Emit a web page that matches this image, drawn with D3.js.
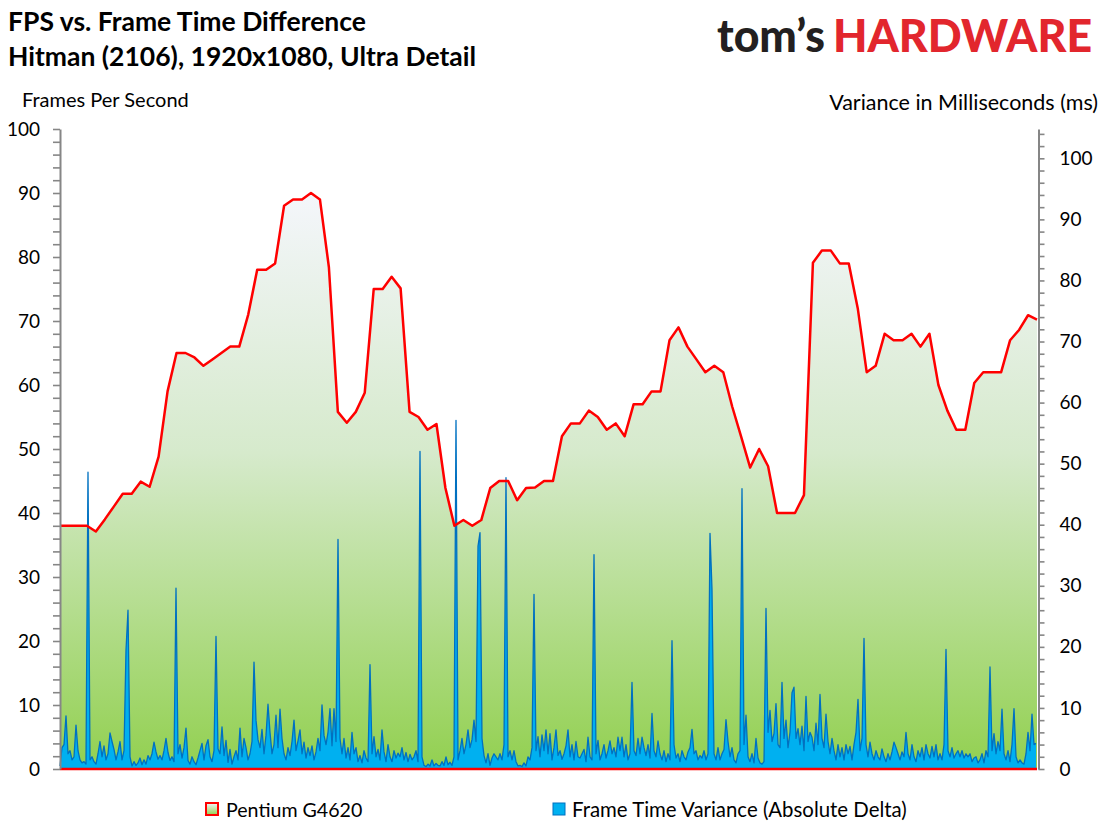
<!DOCTYPE html>
<html>
<head>
<meta charset="utf-8">
<script src="https://cdn.jsdelivr.net/npm/d3@7"></script>
<style>
  body { margin: 0; background: #fff; }
  svg { display: block; }
  text { font-family: Lato, "Open Sans", sans-serif; fill: #000; }
</style>
</head>
<body>
<svg id="chart" width="1107" height="830"></svg>
<script>
// FPS, one sample per second (Pentium G4620)
const fpsValues = [
  38, 38, 38, 38, 37.1, 39, 41, 43, 43, 44.9,
  44.1, 48.8, 59, 65, 65, 64.3, 63, 64, 65, 66,
  66, 71, 78, 78, 79, 88, 89, 89, 90, 89,
  78.4, 55.8, 54.1, 55.8, 58.8, 75, 75, 76.9, 75.1, 55.8,
  55, 53, 53.9, 43.9, 38, 38.9, 38, 38.9, 43.9, 45,
  45, 42, 43.9, 44, 45, 45, 52, 54, 54, 56,
  55, 53, 54, 52, 57, 57, 59, 59, 67, 69,
  66, 64, 62, 63, 62, 56.6, 51.9, 47.1, 50, 47.3,
  40, 40, 40, 42.8, 79.1, 81, 81, 79, 79, 72,
  62, 63, 68, 67, 67, 68, 66, 68, 60, 56,
  53, 53, 60.3, 62, 62, 62, 67, 68.6, 70.9, 70.2
];

// frame time variance (absolute delta, ms)
const varianceValues = [
  0.5, 3.5, 4, 8.7, 2.5, 3, 1.5, 2, 7.2, 3,
  1.5, 1, 1.2, 0.8, 48.6, 1.5, 2, 1.2, 0.8, 2.5,
  4.5, 2, 3.8, 1.5, 2.5, 5.9, 4.5, 3.2, 1.5, 2.8,
  4.5, 1.5, 3, 19.5, 26, 2, 0.5, 1.2, 0.6, 1,
  1.8, 0.7, 1.5, 0.8, 2.2, 1.5, 2.5, 4.4, 2.8, 1.6,
  2.2, 1.5, 3, 5, 2.7, 1.4, 2, 1.2, 29.6, 2.5,
  4, 1.8, 3.5, 6.7, 1.4, 0.8, 2, 1.2, 0.7, 1.8,
  3, 4.2, 1.5, 3.8, 4.8, 2, 1.2, 3, 21.7, 3.3,
  2.5, 6.9, 2.2, 4.7, 1.1, 3.2, 0.8, 2, 3, 1.5,
  6.7, 2, 5, 3.5, 1.5, 2.5, 4.5, 17.5, 8, 4.8,
  3.5, 6.5, 2.5, 5.5, 10.6, 6, 2.5, 4, 8.8, 3.5,
  9.8, 5, 2.5, 1.5, 3.5, 2.2, 4.5, 8, 3, 4.6,
  6.4, 2.5, 4.4, 1.8, 3.5, 2.2, 3.8, 1.5, 2.8, 5,
  3, 10.5, 5.5, 4, 6, 9.9, 3.8, 9.9, 4.5, 37.6,
  5, 2.5, 5, 1.8, 3.5, 1.5, 6, 2.5, 3.5, 1.2,
  2.2, 1, 3, 1.8, 1.2, 17.1, 2.5, 5.3, 2, 3.2,
  1.5, 6.4, 2.8, 1.2, 4, 2, 1.2, 3, 1.8, 2.6,
  2, 3.5, 1.5, 2.7, 1.2, 2.4, 1.5, 2, 3, 1.2,
  52, 2, 0.6, 0.4, 0.8, 0.5, 1.5, 0.5, 0.9, 0.6,
  0.5, 1.2, 0.6, 2, 0.7, 1.1, 0.6, 2, 57.1, 1.5,
  3, 5, 2.5, 4, 6.4, 3.5, 4.8, 8, 4.5, 36.5,
  38.7, 5, 2.2, 1, 2.5, 0.6, 1.8, 2.5, 2, 1.5,
  2.5, 1.5, 4, 47.7, 2, 3, 1.5, 3, 1.2, 0.5,
  0.6, 0.4, 1, 0.5, 2, 1.5, 3.5, 28.6, 3, 5.3,
  2, 5.6, 3, 6.4, 2.5, 5.8, 1.5, 3.5, 6.4, 2.2,
  3, 1.6, 2.5, 3.8, 6.4, 2, 4, 1.5, 4.5, 2,
  1.8, 2.5, 3.2, 1.2, 5.2, 2, 1.5, 35.1, 2.5, 4.7,
  1.5, 2.5, 4, 1.8, 3, 4.6, 2.5, 3.5, 2, 5.2,
  3, 5.2, 2, 4, 1.5, 2.5, 14.2, 3, 2.2, 5,
  2.5, 5.2, 3.5, 2.2, 4, 1.8, 9.1, 3, 2, 4.6,
  2.5, 1.5, 3, 1.2, 2.5, 1.5, 21, 4, 1.8, 2.5,
  1.2, 3, 2, 1.5, 2.8, 3.5, 6.5, 2.5, 3, 1.5,
  2.2, 1.8, 3, 1.5, 2.5, 38.6, 29.4, 2.5, 1.5, 3.5,
  1.5, 2.5, 3.2, 8.1, 4.5, 2, 3.5, 1.5, 1, 2.5,
  3, 45.9, 4, 8.8, 2, 1.2, 2.5, 1, 5, 1.8,
  1, 0.8, 1.2, 26.3, 6, 9.6, 4.5, 5.8, 10.7, 4,
  3.5, 14.2, 5, 8, 3.5, 6, 12.5, 13.4, 5, 6.6,
  4, 7, 3, 11.9, 4.5, 6, 5.2, 3, 7.5, 4,
  12.2, 5, 3.5, 9, 4.5, 2.5, 5, 3, 1.5, 4,
  2, 3.5, 1.5, 4, 2.5, 3.7, 1.5, 4, 6, 11.4,
  3, 5, 21.4, 4, 2, 4.4, 2.5, 1.5, 3, 2,
  1.5, 3.3, 2, 1.2, 2.5, 1.5, 2.8, 4.4, 3.5, 2.5,
  1.5, 2.8, 2, 6, 2.5, 1.5, 4, 2, 1.2, 3,
  2, 3.5, 1.5, 4, 2.5, 1.8, 3.7, 2, 4, 1.5,
  2.5, 1.5, 4, 19.6, 3, 2, 3.5, 1.8, 2.5, 3,
  2, 3, 1.8, 2.5, 2, 2.5, 1.2, 1.8, 2, 1,
  1.5, 2.5, 1, 3, 2, 16.7, 3, 5.8, 2.5, 4.5,
  3, 9.8, 2.5, 1.5, 3, 1.2, 4, 9.9, 2, 1,
  1.5, 1, 0.8, 2.5, 6, 3, 9, 4, 4.2
];

const fpsTicks = d3.range(0, 101, 2);
const msTicks = d3.range(0, 105, 2);
const seriesNames = ["Pentium G4620", "Frame Time Variance (Absolute Delta)"];

const svg = d3.select("#chart");

const plotLeft = 60, plotRight = 1038.5, plotTop = 129, plotBottom = 769;

const xFps = d3.scaleLinear().domain([0, fpsValues.length - 1]).range([60, 1037]);
const xVar = d3.scaleLinear().domain([0, varianceValues.length - 1]).range([60, 1036]);
const yFps = d3.scaleLinear().domain([0, 100]).range([plotBottom, plotTop]);
const yMs = d3.scaleLinear().domain([0, 104.8]).range([plotBottom, plotTop]);

// gradient for the fps area
const defs = svg.append("defs");
const grad = defs.append("linearGradient")
    .attr("id", "fpsFill")
    .attr("x1", 0).attr("y1", 0).attr("x2", 0).attr("y2", 1);
grad.append("stop").attr("offset", "0%").attr("stop-color", "#f4f6fb");
grad.append("stop").attr("offset", "45%").attr("stop-color", "#d6eacc");
grad.append("stop").attr("offset", "100%").attr("stop-color", "#92d050");

// fps area
const fpsArea = d3.area()
    .x((d, i) => xFps(i))
    .y0(yFps(0))
    .y1(d => yFps(d));

svg.append("path")
    .datum(fpsValues)
    .attr("d", fpsArea)
    .attr("fill", "url(#fpsFill)");

// variance area
const varArea = d3.area()
    .x((d, i) => xVar(i))
    .y0(yMs(0))
    .y1(d => yMs(d));

const varLine = d3.line()
    .x((d, i) => xVar(i))
    .y(d => yMs(d));

svg.append("path")
    .datum(varianceValues)
    .attr("d", varArea)
    .attr("fill", "#00b0f0");

svg.append("path")
    .datum(varianceValues)
    .attr("d", varLine)
    .attr("fill", "none")
    .attr("stroke", "#0070c0")
    .attr("stroke-width", 1.3)
    .attr("stroke-linejoin", "round");

// fps outline
const fpsLine = d3.line()
    .x((d, i) => xFps(i))
    .y(d => yFps(d));

svg.append("path")
    .datum(fpsValues)
    .attr("d", fpsLine)
    .attr("fill", "none")
    .attr("stroke", "#ff0000")
    .attr("stroke-width", 2.5)
    .attr("stroke-linejoin", "round");

svg.append("line")
    .attr("x1", xFps(0)).attr("x2", xFps(fpsValues.length - 1))
    .attr("y1", yFps(0)).attr("y2", yFps(0))
    .attr("stroke", "#ff0000")
    .attr("stroke-width", 2.5);

// axes
const leftAxis = svg.append("g")
    .attr("transform", `translate(${plotLeft},0)`)
    .call(d3.axisLeft(yFps)
        .tickValues(fpsTicks)
        .tickSize(7)
        .tickSizeOuter(0)
        .tickPadding(13)
        .tickFormat(d => d % 10 === 0 ? d : ""));

const rightAxis = svg.append("g")
    .attr("transform", `translate(${plotRight},0)`)
    .call(d3.axisRight(yMs)
        .tickValues(msTicks)
        .tickSize(6)
        .tickSizeOuter(0)
        .tickPadding(15)
        .tickFormat(d => d % 10 === 0 ? d : ""));

[leftAxis, rightAxis].forEach(g => {
    g.select(".domain").attr("stroke", "#868686").attr("stroke-width", 2);
    g.selectAll(".tick line").attr("stroke", "#868686").attr("stroke-width", 1.6);
    g.selectAll(".tick text")
        .attr("font-family", "Lato, 'Open Sans', sans-serif")
        .attr("font-size", 19)
        .attr("fill", "#000");
});

// titles
svg.append("text")
    .attr("x", 8).attr("y", 31)
    .attr("font-size", 26.5).attr("font-weight", 700)
    .text("FPS vs. Frame Time Difference");

svg.append("text")
    .attr("x", 8).attr("y", 66)
    .attr("font-size", 26.5).attr("font-weight", 700)
    .text("Hitman (2106), 1920x1080, Ultra Detail");

svg.append("text")
    .attr("x", 22).attr("y", 107)
    .attr("font-size", 20)
    .text("Frames Per Second");

svg.append("text")
    .attr("x", 1098).attr("y", 110)
    .attr("text-anchor", "end")
    .attr("font-size", 21.5)
    .text("Variance in Milliseconds (ms)");

// logo
svg.append("text")
    .attr("x", 717).attr("y", 52)
    .attr("font-family", "Roboto, sans-serif")
    .attr("font-size", 46).attr("font-weight", 900)
    .attr("textLength", 108).attr("lengthAdjust", "spacingAndGlyphs")
    .style("fill", "#231f20")
    .text("tom\u2019s");

svg.append("text")
    .attr("x", 833).attr("y", 52)
    .attr("font-family", "Roboto, sans-serif")
    .attr("font-size", 45).attr("font-weight", 900)
    .attr("textLength", 259).attr("lengthAdjust", "spacingAndGlyphs")
    .style("fill", "#e2262d")
    .text("HARDWARE");

// legend
const legendGrad = defs.append("linearGradient")
    .attr("id", "legendFill")
    .attr("x1", 0).attr("y1", 0).attr("x2", 0).attr("y2", 1);
legendGrad.append("stop").attr("offset", "0%").attr("stop-color", "#f4f6fb");
legendGrad.append("stop").attr("offset", "100%").attr("stop-color", "#92d050");

const legend = svg.append("g");
legend.append("rect")
    .attr("x", 206).attr("y", 803).attr("width", 12).attr("height", 12)
    .attr("fill", "url(#legendFill)")
    .attr("stroke", "#ff0000").attr("stroke-width", 2);
legend.append("text")
    .attr("x", 226).attr("y", 817)
    .attr("font-size", 19.6)
    .text(seriesNames[0]);

legend.append("rect")
    .attr("x", 553).attr("y", 803).attr("width", 12).attr("height", 12)
    .attr("fill", "#00b0f0")
    .attr("stroke", "#0070c0").attr("stroke-width", 1);
legend.append("text")
    .attr("x", 572).attr("y", 817)
    .attr("font-size", 20.4)
    .text(seriesNames[1]);
</script>
</body>
</html>
